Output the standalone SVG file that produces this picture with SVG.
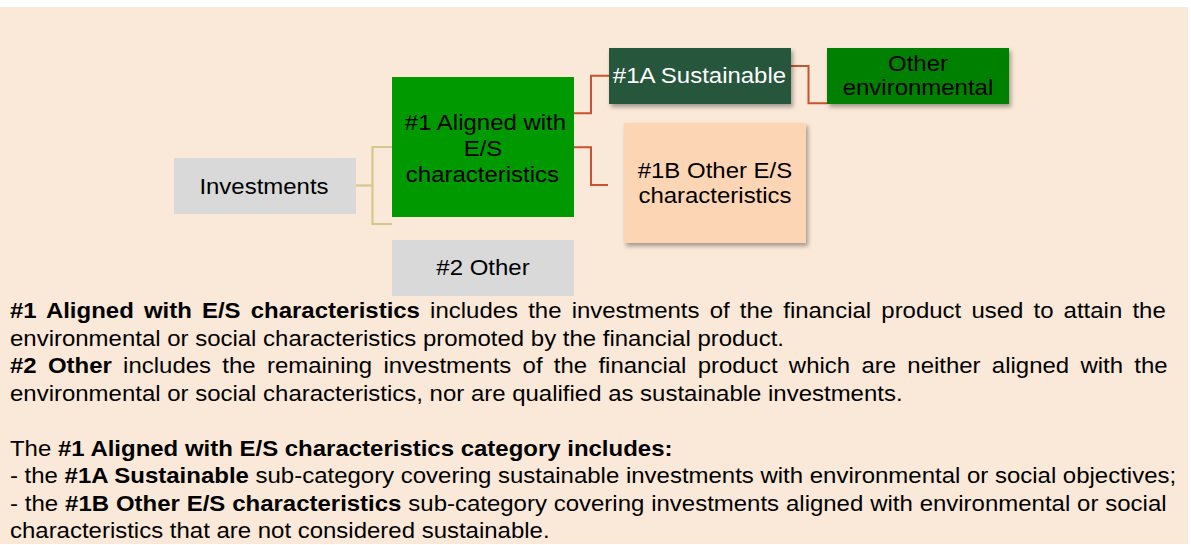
<svg xmlns="http://www.w3.org/2000/svg" width="1191" height="545" viewBox="0 0 1191 545">
<defs>
<style>
text{font-family:"Liberation Sans",Arial,sans-serif;font-size:22px;fill:#000}
.c{text-anchor:middle}
.b{font-weight:bold}
.k{fill:none;stroke:#D4C98C;stroke-width:2.2}
.r{fill:none;stroke:#C9522F;stroke-width:2}
</style>
<filter id="sh" x="-10%" y="-10%" width="125%" height="135%">
<feDropShadow dx="2" dy="3" stdDeviation="2" flood-color="#000" flood-opacity="0.35"/>
</filter>
</defs>
<rect x="0" y="0" width="1191" height="545" fill="#fff"/>
<rect x="0" y="7" width="1188" height="537" fill="#FAE8D8"/>
<g id="connectors">
<polyline class="k" points="356,185.5 372.5,185.5"/>
<polyline class="k" points="392,147 372.5,147 372.5,224 392,224"/>
<polyline class="r" points="574,113.3 591,113.3 591,75.7 609,75.7"/>
<polyline class="r" points="574,147.3 591,147.3 591,185 608,185"/>
<polyline class="r" points="791,66 808.5,66 808.5,103.3 827,103.3"/>
</g>
<g id="investments">
<rect x="174" y="158" width="182" height="56" fill="#D9D9D9"/>
<text class="c" transform="scale(1.09 1)" x="242.2" y="194">Investments</text>
</g>
<g id="aligned">
<rect x="392" y="77" width="182" height="140" fill="#009900"/>
<text class="c" transform="scale(1.09 1)"><tspan x="445.41" y="130">#1 Aligned with</tspan><tspan x="443.12" y="156">E/S</tspan><tspan x="442.6" y="182">characteristics</tspan></text>
</g>
<g id="other2">
<rect x="392" y="240" width="182" height="56" fill="#D9D9D9"/>
<text class="c" transform="scale(1.09 1)" x="443.12" y="275">#2 Other</text>
</g>
<g id="sustainable">
<rect x="609" y="48" width="182" height="56" fill="#25573A" filter="url(#sh)"/>
<text class="c" transform="scale(1.09 1)" x="641.74" y="83.3" style="fill:#fff">#1A Sustainable</text>
</g>
<g id="otherenv">
<rect x="827" y="48" width="182" height="56" fill="#008000" filter="url(#sh)"/>
<text class="c" transform="scale(1.09 1)"><tspan x="842.2" y="70.7">Other</tspan><tspan x="842.2" y="95">environmental</tspan></text>
</g>
<g id="otheres">
<rect x="624" y="123" width="182" height="120" fill="#FCD5B5" filter="url(#sh)"/>
<text class="c" transform="scale(1.09 1)"><tspan x="655.96" y="178.3">#1B Other E/S</tspan><tspan x="655.96" y="202.7">characteristics</tspan></text>
</g>
<g id="body" transform="scale(1.09 1)">
<text x="9.17" y="318.3" style="word-spacing:3.19px"><tspan class="b">#1 Aligned with E/S characteristics</tspan> includes the investments of the financial product used to attain the</text>
<text x="9.17" y="345.8">environmental or social characteristics promoted by the financial product.</text>
<text x="9.17" y="373.3" style="word-spacing:4.23px"><tspan class="b">#2 Other</tspan> includes the remaining investments of the financial product which are neither aligned with the</text>
<text x="9.17" y="400.8">environmental or social characteristics, nor are qualified as sustainable investments.</text>
<text x="9.17" y="456">The <tspan class="b">#1 Aligned with E/S characteristics category includes:</tspan></text>
<text x="9.17" y="483.5">- the <tspan class="b">#1A Sustainable</tspan> sub-category covering sustainable investments with environmental or social objectives;</text>
<text x="9.17" y="511" style="word-spacing:0.2px">- the <tspan class="b">#1B Other E/S characteristics</tspan> sub-category covering investments aligned with environmental or social</text>
<text x="9.17" y="538.5">characteristics that are not considered sustainable.</text>
</g>
</svg>
